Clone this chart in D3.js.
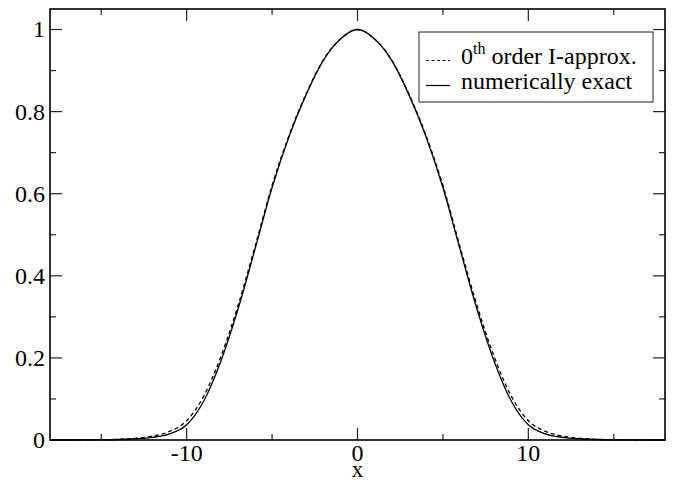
<!DOCTYPE html>
<html>
<head>
<meta charset="utf-8">
<script src="https://cdn.jsdelivr.net/npm/d3@7"></script>
<style>
  body { margin: 0; background: #fff; }
</style>
</head>
<body>
<div id="chart"></div>
<script>
// x positions and curve values
let xs = [-18,-17,-16,-15,-14,-13,-12,-11,-10,-9,-8,-7,-6,-5,-4,-3,-2,-1,0,
          1,2,3,4,5,6,7,8,9,10,11,12,13,14,15,16,17,18];
let exact = [0,0,0.0001,0.0004,0.0012,0.003,0.0065,0.015,0.037,0.095,0.192,0.318,0.465,0.615,0.74,0.842,0.925,0.977,1,
             0.977,0.925,0.842,0.74,0.615,0.465,0.318,0.192,0.095,0.037,0.015,0.0065,0.003,0.0012,0.0004,0.0001,0,0];
let approx = [0,0,0.0001,0.0005,0.0016,0.0042,0.0095,0.021,0.047,0.107,0.203,0.327,0.471,0.62,0.743,0.844,0.926,0.977,1,
              0.977,0.926,0.844,0.743,0.62,0.471,0.327,0.203,0.107,0.047,0.021,0.0095,0.0042,0.0016,0.0005,0.0001,0,0];
let xTicks = [-10, 0, 10];
let xMinor = [-15, -5, 5, 15];
let yTicks = [0, 0.2, 0.4, 0.6, 0.8, 1];
let yMinor = [0.1, 0.3, 0.5, 0.7, 0.9];

let width = 682, height = 480;
let margin = ({top: 9, right: 17, bottom: 40, left: 50});

let x = d3.scaleLinear()
    .domain([-18, 18])
    .range([margin.left, width - margin.right]);
let y = d3.scaleLinear()
    .domain([0, 1.05])
    .range([height - margin.bottom, margin.top]);

let svg = d3.select("#chart")
    .append("svg")
    .attr("width", width)
    .attr("height", height)
    .style("font-family", '"Liberation Serif", "Times New Roman", serif');

// ticks on all four sides, pointing inward
let tickGroup = svg.append("g").attr("stroke", "#222").attr("stroke-width", 1.2);
let x0 = x.range()[0], x1 = x.range()[1], y0 = y.range()[0], y1 = y.range()[1];
let vt = [...xTicks.map(v => [v, 12]), ...xMinor.map(v => [v, 6])];
let ht = [...yTicks.map(v => [v, 12]), ...yMinor.map(v => [v, 6])];
tickGroup.selectAll(".b").data(vt).join("line")
    .attr("x1", d => x(d[0])).attr("x2", d => x(d[0]))
    .attr("y1", y0).attr("y2", d => y0 - d[1]);
tickGroup.selectAll(".t").data(vt).join("line")
    .attr("x1", d => x(d[0])).attr("x2", d => x(d[0]))
    .attr("y1", y1).attr("y2", d => y1 + d[1]);
tickGroup.selectAll(".l").data(ht).join("line")
    .attr("y1", d => y(d[0])).attr("y2", d => y(d[0]))
    .attr("x1", x0).attr("x2", d => x0 + d[1]);
tickGroup.selectAll(".r").data(ht).join("line")
    .attr("y1", d => y(d[0])).attr("y2", d => y(d[0]))
    .attr("x1", x1).attr("x2", d => x1 - d[1]);

svg.append("rect")
    .attr("x", x0).attr("y", y1)
    .attr("width", x1 - x0).attr("height", y0 - y1)
    .attr("fill", "none")
    .attr("stroke", "#000")
    .attr("stroke-width", 1.6);

// tick labels
svg.append("g")
    .attr("font-size", 24)
    .attr("text-anchor", "middle")
    .selectAll("text")
    .data(xTicks)
    .join("text")
    .attr("x", d => x(d))
    .attr("y", 461)
    .text(d => d);

svg.append("g")
    .attr("font-size", 24)
    .attr("text-anchor", "end")
    .selectAll("text")
    .data(yTicks)
    .join("text")
    .attr("x", x0 - 5)
    .attr("y", d => y(d))
    .attr("dy", "0.33em")
    .text(d => d);

svg.append("text")
    .attr("x", x(0))
    .attr("y", 477)
    .attr("text-anchor", "middle")
    .attr("font-size", 23)
    .text("x");

// curves
let line = (vals) => d3.line()
    .x((d, i) => x(xs[i]))
    .y(d => y(d))
    .curve(d3.curveMonotoneX)(vals);

svg.append("path")
    .attr("d", line(approx))
    .attr("fill", "none")
    .attr("stroke", "#000")
    .attr("stroke-width", 1.3)
    .attr("stroke-dasharray", "4,3");

svg.append("path")
    .attr("d", line(exact))
    .attr("fill", "none")
    .attr("stroke", "#000")
    .attr("stroke-width", 1.3);

// legend
let lg = svg.append("g");
lg.append("rect")
    .attr("x", 419).attr("y", 32)
    .attr("width", 234).attr("height", 70)
    .attr("fill", "#fff")
    .attr("stroke", "#222")
    .attr("stroke-width", 1);
lg.append("line")
    .attr("x1", 426).attr("x2", 450).attr("y1", 60.5).attr("y2", 60.5)
    .attr("stroke", "#000").attr("stroke-width", 1.2)
    .attr("stroke-dasharray", "3,2.5");
lg.append("line")
    .attr("x1", 426).attr("x2", 450).attr("y1", 85.5).attr("y2", 85.5)
    .attr("stroke", "#000").attr("stroke-width", 1.2);
let t1 = lg.append("text").attr("x", 461).attr("y", 64).attr("font-size", 24);
t1.append("tspan").text("0");
t1.append("tspan").attr("font-size", 16).attr("dy", -10).text("th");
t1.append("tspan").attr("dy", 10).text(" order I-approx.");
lg.append("text").attr("x", 461).attr("y", 89).attr("font-size", 24)
    .text("numerically exact");
</script>
</body>
</html>
